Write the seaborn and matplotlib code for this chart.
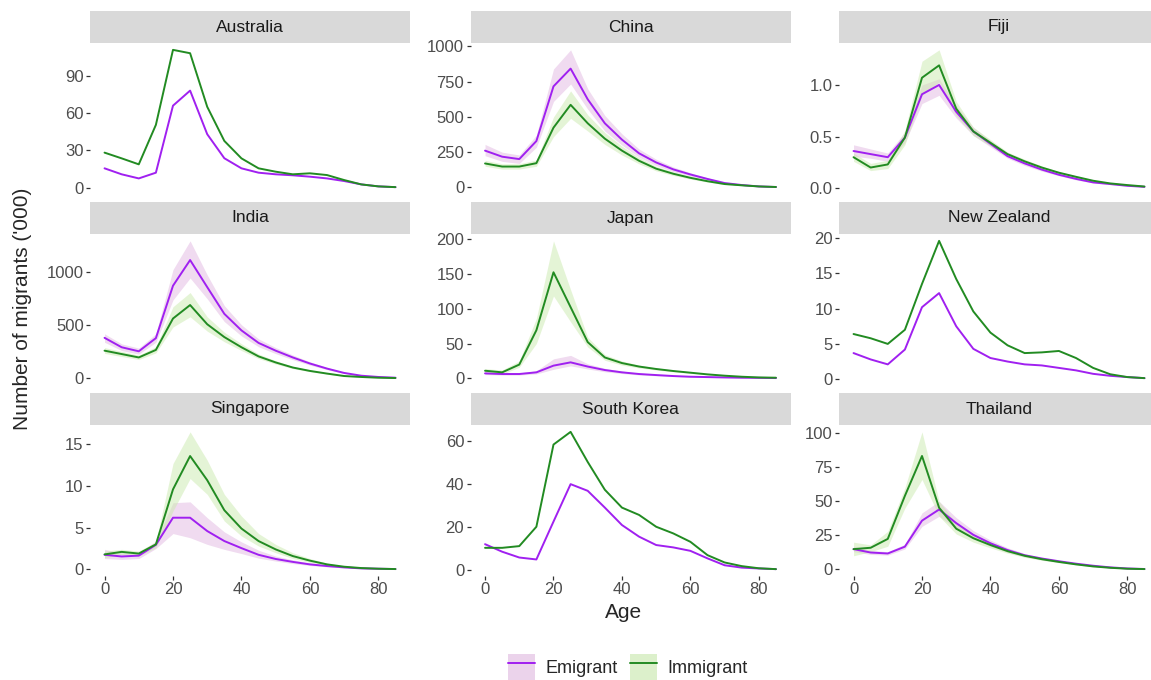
import numpy as np
import pandas as pd
import matplotlib
matplotlib.use("Agg")
import matplotlib.pyplot as plt
import seaborn as sns
from matplotlib.patches import Patch
from matplotlib.lines import Line2D

# ---------------- data ----------------
ages = [0, 5, 10, 15, 20, 25, 30, 35, 40, 45, 50, 55, 60, 65, 70, 75, 80, 85]
countries = ["Australia", "China", "Fiji", "India", "Japan", "New Zealand",
             "Singapore", "South Korea", "Thailand"]
x_ticks = [0, 20, 40, 60, 80]

australia_em = [15.6, 10.8, 7.5, 12.1, 65.9, 78, 43, 23.7, 15.6, 12.1, 10.8, 10, 8.9, 7.5, 5.4, 2.7, 1.1, 0.5]
australia_im = [28.2, 23.6, 18.8, 50.5, 110.7, 108, 65, 37.6, 23.6, 15.6, 12.9, 10.8, 11.6, 10.2, 6.2, 2.7, 1.1, 0.5]
australia_ticks = [0, 30, 60, 90]

china_em = [261, 218, 201, 329, 717, 843, 625, 455, 339, 242, 177, 128, 92, 60, 31, 17, 7, 3]
china_em_lo = [225, 185, 170, 285, 610, 734, 555, 400, 300, 215, 155, 112, 80, 52, 26, 14, 5, 2]
china_em_hi = [305, 250, 230, 370, 840, 976, 700, 510, 380, 272, 200, 145, 104, 68, 36, 20, 9, 4]
china_im = [170, 148, 148, 172, 424, 586, 455, 346, 261, 189, 133, 97, 68, 44, 24, 15, 7, 3]
china_im_lo = [150, 130, 130, 150, 360, 490, 400, 305, 230, 167, 117, 85, 59, 38, 20, 12, 5, 2]
china_im_hi = [192, 168, 168, 195, 500, 685, 515, 390, 293, 212, 150, 110, 77, 50, 28, 18, 9, 4]
china_ticks = [0, 250, 500, 750, 1000]

fiji_em = [0.36, 0.33, 0.30, 0.49, 0.91, 1.00, 0.74, 0.55, 0.43, 0.31, 0.24, 0.18, 0.13, 0.09, 0.056, 0.04, 0.023, 0.013]
fiji_em_lo = [0.31, 0.29, 0.26, 0.44, 0.82, 0.90, 0.68, 0.51, 0.40, 0.29, 0.22, 0.165, 0.12, 0.08, 0.05, 0.035, 0.02, 0.01]
fiji_em_hi = [0.42, 0.38, 0.34, 0.54, 1.00, 1.06, 0.80, 0.59, 0.46, 0.33, 0.26, 0.195, 0.14, 0.10, 0.062, 0.045, 0.026, 0.016]
fiji_im = [0.30, 0.20, 0.23, 0.49, 1.07, 1.19, 0.77, 0.55, 0.44, 0.33, 0.26, 0.20, 0.15, 0.11, 0.072, 0.046, 0.03, 0.016]
fiji_im_lo = [0.26, 0.17, 0.19, 0.42, 0.90, 1.03, 0.70, 0.51, 0.41, 0.31, 0.24, 0.185, 0.14, 0.10, 0.065, 0.041, 0.026, 0.013]
fiji_im_hi = [0.34, 0.24, 0.27, 0.56, 1.23, 1.34, 0.84, 0.59, 0.47, 0.35, 0.28, 0.215, 0.16, 0.12, 0.079, 0.051, 0.034, 0.019]
fiji_ticks = [0.0, 0.5, 1.0]

india_em = [382, 293, 255, 379, 873, 1115, 860, 608, 452, 334, 261, 197, 140, 92, 51, 25, 13, 6]
india_em_lo = [340, 262, 228, 340, 739, 946, 750, 535, 400, 298, 233, 176, 125, 82, 45, 22, 11, 5]
india_em_hi = [420, 325, 285, 420, 1025, 1296, 975, 685, 505, 372, 290, 220, 156, 103, 57, 28, 15, 7]
india_im = [261, 229, 197, 268, 564, 691, 510, 389, 293, 207, 150, 102, 70, 45, 22, 13, 6, 3]
india_im_lo = [235, 206, 177, 240, 484, 580, 445, 345, 262, 186, 135, 92, 63, 40, 19, 11, 5, 2]
india_im_hi = [290, 254, 219, 298, 675, 809, 580, 435, 326, 230, 166, 113, 78, 50, 25, 15, 7, 4]
india_ticks = [0, 500, 1000]

japan_em = [7.2, 6.3, 6.3, 8.7, 18.3, 23, 17, 12, 8.7, 6.3, 4.8, 3.4, 2.4, 1.9, 1.4, 1.0, 0.8, 0.5]
japan_em_lo = [5.5, 4.8, 4.8, 6.5, 13, 18, 13.5, 9.5, 7, 5, 3.8, 2.7, 1.9, 1.5, 1.1, 0.8, 0.6, 0.4]
japan_em_hi = [9, 8, 8, 11, 28, 33, 21, 14.5, 10.5, 7.6, 5.8, 4.1, 2.9, 2.3, 1.7, 1.2, 1.0, 0.6]
japan_im = [11, 8.7, 19.8, 69, 152, 102, 52, 30, 22, 17, 13.5, 10.6, 8.2, 5.8, 3.9, 2.4, 1.4, 1.0]
japan_im_lo = [7, 6, 16, 50, 118, 81, 45, 26, 19, 15, 12, 9.5, 7.3, 5.1, 3.4, 2.1, 1.2, 0.8]
japan_im_hi = [14, 12, 25, 86, 197, 127, 59, 34, 25, 19, 15, 11.7, 9.1, 6.5, 4.4, 2.7, 1.6, 1.2]
japan_ticks = [0, 50, 100, 150, 200]

nz_em = [3.7, 2.8, 2.1, 4.2, 10.2, 12.2, 7.5, 4.3, 3.0, 2.5, 2.1, 1.95, 1.6, 1.25, 0.76, 0.48, 0.3, 0.15]
nz_im = [6.4, 5.8, 5.0, 7.0, 13.5, 19.6, 14.2, 9.6, 6.6, 4.8, 3.7, 3.8, 4.0, 3.0, 1.6, 0.7, 0.3, 0.15]
nz_ticks = [0, 5, 10, 15, 20]

singapore_em = [1.75, 1.55, 1.65, 2.95, 6.2, 6.2, 4.6, 3.4, 2.55, 1.75, 1.25, 0.9, 0.6, 0.4, 0.24, 0.12, 0.08, 0.04]
singapore_em_lo = [1.3, 1.2, 1.3, 2.5, 4.3, 3.8, 3.0, 2.4, 1.9, 1.35, 1.0, 0.7, 0.47, 0.3, 0.18, 0.09, 0.06, 0.03]
singapore_em_hi = [2.4, 2.0, 2.0, 3.4, 8.0, 8.1, 6.2, 4.5, 3.3, 2.3, 1.6, 1.15, 0.78, 0.52, 0.31, 0.16, 0.1, 0.05]
singapore_im = [1.8, 2.1, 1.9, 3.0, 9.6, 13.6, 10.7, 7.1, 4.9, 3.4, 2.4, 1.6, 1.05, 0.6, 0.32, 0.16, 0.08, 0.04]
singapore_im_lo = [1.4, 1.8, 1.6, 2.6, 7.0, 10.9, 9.0, 5.8, 4.0, 2.8, 2.0, 1.3, 0.85, 0.5, 0.26, 0.13, 0.06, 0.03]
singapore_im_hi = [2.2, 2.4, 2.2, 3.3, 12.7, 16.5, 13.1, 9.0, 6.4, 4.3, 3.0, 2.0, 1.3, 0.75, 0.4, 0.2, 0.1, 0.05]
singapore_ticks = [0, 5, 10, 15]

korea_em = [12.1, 8.6, 5.9, 5.0, 22.6, 40.0, 36.9, 29.1, 21.0, 15.6, 11.7, 10.6, 9.0, 5.5, 2.3, 1.2, 0.8, 0.5]
korea_im = [10.4, 10.4, 11.2, 20.2, 58.4, 64.3, 50.3, 37.4, 29.1, 25.7, 20.2, 17.1, 13.2, 7.0, 3.6, 1.9, 0.9, 0.5]
korea_ticks = [0, 20, 40, 60]

thailand_em = [14.9, 12.4, 11.7, 16.7, 35.8, 44, 34, 25.4, 19.2, 14.2, 10.4, 8, 6, 4.2, 2.7, 1.5, 0.7, 0.3]
thailand_em_lo = [13, 11, 10.5, 15, 31.6, 39, 30, 22.5, 17, 12.6, 9.3, 7.1, 5.3, 3.7, 2.4, 1.3, 0.6, 0.25]
thailand_em_hi = [17, 14, 13, 18.5, 41.5, 50, 38, 28.5, 21.5, 15.9, 11.6, 8.9, 6.7, 4.7, 3.0, 1.7, 0.8, 0.35]
thailand_im = [14.9, 15.9, 22.4, 54, 83.3, 45.3, 29.9, 22.9, 17.9, 13.4, 10, 7.5, 5.5, 3.7, 2.2, 1.2, 0.5, 0.25]
thailand_im_lo = [10, 13, 17, 45, 66, 39, 26, 20, 15.8, 11.9, 8.9, 6.7, 4.9, 3.3, 1.9, 1.0, 0.4, 0.2]
thailand_im_hi = [20, 18, 28, 60, 101, 50, 34, 26, 20, 15, 11.2, 8.4, 6.1, 4.1, 2.5, 1.4, 0.6, 0.3]
thailand_ticks = [0, 25, 50, 75, 100]

series = {
    "Australia": (australia_em, None, None, australia_im, None, None, australia_ticks),
    "China": (china_em, china_em_lo, china_em_hi, china_im, china_im_lo, china_im_hi, china_ticks),
    "Fiji": (fiji_em, fiji_em_lo, fiji_em_hi, fiji_im, fiji_im_lo, fiji_im_hi, fiji_ticks),
    "India": (india_em, india_em_lo, india_em_hi, india_im, india_im_lo, india_im_hi, india_ticks),
    "Japan": (japan_em, japan_em_lo, japan_em_hi, japan_im, japan_im_lo, japan_im_hi, japan_ticks),
    "New Zealand": (nz_em, None, None, nz_im, None, None, nz_ticks),
    "Singapore": (singapore_em, singapore_em_lo, singapore_em_hi, singapore_im, singapore_im_lo, singapore_im_hi, singapore_ticks),
    "South Korea": (korea_em, None, None, korea_im, None, None, korea_ticks),
    "Thailand": (thailand_em, thailand_em_lo, thailand_em_hi, thailand_im, thailand_im_lo, thailand_im_hi, thailand_ticks),
}

# ---------------- style ----------------
sns.set_theme(style="white")
plt.rcParams['font.family'] = ['Liberation Sans', 'DejaVu Sans']

EM_LINE = "#A020F0"
IM_LINE = "#228B22"
EM_FILL = "#E6C3E6"
IM_FILL = "#CBEAAE"
EM_KEY = "#EBD3EB"
IM_KEY = "#DCF0CB"
palette = {"Emigrant": EM_LINE, "Immigrant": IM_LINE}

W, H = 1151, 680
fig = plt.figure(figsize=(W / 100, H / 100), dpi=100)

col_left = [90, 470.5, 839]
panel_w = 320
row_top = [43, 234, 425]
panel_h = 151
strip_h = 32

rows = []
for c in countries:
    em, eml, emh, im, iml, imh, _ = series[c]
    for a, v in zip(ages, em):
        rows.append((c, "Emigrant", a, v))
    for a, v in zip(ages, im):
        rows.append((c, "Immigrant", a, v))
df = pd.DataFrame(rows, columns=["Country", "Type", "Age", "Value"])

for i, c in enumerate(countries):
    r, k = divmod(i, 3)
    x0 = col_left[k]
    y0 = row_top[r]
    ax = fig.add_axes([x0 / W, 1 - (y0 + panel_h) / H, panel_w / W, panel_h / H])
    em, eml, emh, im, iml, imh, yt = series[c]
    if eml is not None:
        ax.fill_between(ages, eml, emh, color=EM_FILL, alpha=0.6, lw=0, zorder=1)
        ax.fill_between(ages, iml, imh, color=IM_FILL, alpha=0.5, lw=0, zorder=1)
    sub = df[df["Country"] == c]
    sns.lineplot(data=sub, x="Age", y="Value", hue="Type", palette=palette,
                 ax=ax, legend=False, linewidth=1.4, zorder=3)
    allv = list(em) + list(im)
    for arr in (eml, emh, iml, imh):
        if arr is not None:
            allv += list(arr)
    lo, hi = min(allv), max(allv)
    pad = 0.05 * (hi - lo)
    ax.set_ylim(lo - pad, hi + pad)
    ax.set_xlim(-4.25, 89.25)
    ax.set_yticks(yt)
    ax.set_yticklabels([("%.1f" % t) if c == "Fiji" else str(int(t)) for t in yt])
    ax.set_xticks(x_ticks)
    ax.set_xlabel("")
    ax.set_ylabel("")
    for s in ax.spines.values():
        s.set_visible(False)
    ax.set_facecolor("white")
    ax.grid(False)
    ax.tick_params(axis="both", length=3, width=0.9, color="#333333",
                   labelsize=12, labelcolor="#4D4D4D", pad=1.5,
                   left=True, bottom=True)
    if r < 2:
        ax.tick_params(axis="x", bottom=False, labelbottom=False)
    # strip
    sax = fig.add_axes([x0 / W, 1 - y0 / H, panel_w / W, strip_h / H])
    sax.set_facecolor("#D9D9D9")
    for s in sax.spines.values():
        s.set_visible(False)
    sax.set_xticks([])
    sax.set_yticks([])
    sax.text(0.5, 0.5, c, ha="center", va="center", fontsize=12.5,
             color="#1A1A1A", transform=sax.transAxes)

fig.text(624 / W, 1 - 613 / H, "Age", ha="center", va="center", fontsize=15)
fig.text(23 / W, 1 - 309 / H, "Number of migrants ('000)", ha="center",
         va="center", rotation=90, fontsize=15)

handles = [
    (Patch(facecolor=EM_KEY, edgecolor="none"), Line2D([], [], color=EM_LINE, lw=1.4)),
    (Patch(facecolor=IM_KEY, edgecolor="none"), Line2D([], [], color=IM_LINE, lw=1.4)),
]
fig.legend(handles=handles, labels=["Emigrant", "Immigrant"], loc="center",
           bbox_to_anchor=(628 / W, 1 - 667 / H), ncol=2, frameon=False,
           fontsize=13, handlelength=1.45, handleheight=1.9,
           handletextpad=0.6, columnspacing=0.7)

fig.savefig("out.png", dpi=100)
